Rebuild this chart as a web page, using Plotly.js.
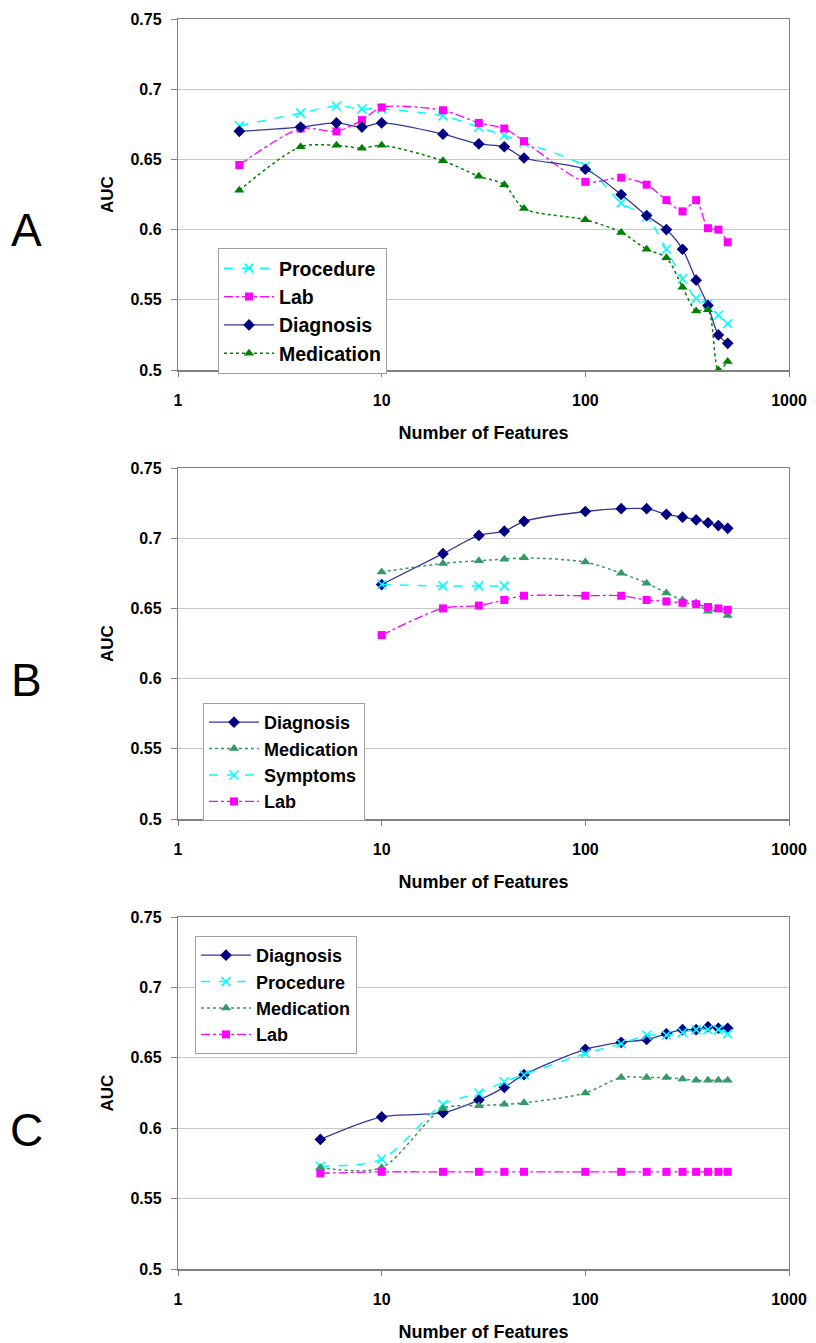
<!DOCTYPE html>
<html><head><meta charset="utf-8">
<script src="https://cdn.plot.ly/plotly-3.0.1.min.js"></script>
<style>html,body{margin:0;padding:0;background:#fff}#c{width:816px;height:1343px}</style>
</head><body><div id="c"></div>
<script>
// Panel A
const featA = [2,4,6,8,10,20,30,40,50,100,150,200,250,300,350,400,450,500];
const A_procedure = [0.674,0.683,0.688,0.686,0.686,0.681,0.673,0.667,0.662,0.645,0.619,0.609,0.586,0.565,0.551,0.547,0.539,0.533];
const A_lab = [0.646,0.672,0.670,0.678,0.687,0.685,0.676,0.672,0.663,0.634,0.637,0.632,0.621,0.613,0.621,0.601,0.600,0.591];
const A_diagnosis = [0.670,0.673,0.676,0.673,0.676,0.668,0.661,0.659,0.651,0.643,0.625,0.610,0.600,0.586,0.564,0.546,0.525,0.519];
const A_medication = [0.628,0.659,0.660,0.658,0.660,0.649,0.638,0.632,0.615,0.607,0.598,0.586,0.580,0.559,0.542,0.543,0.500,0.506];
// Panel B
const featB = [10,20,30,40,50,100,150,200,250,300,350,400,450,500];
const featB_sym = [10,20,30,40];
const B_diagnosis = [0.667,0.689,0.702,0.705,0.712,0.719,0.721,0.721,0.717,0.715,0.713,0.711,0.709,0.707];
const B_medication = [0.676,0.682,0.684,0.685,0.686,0.683,0.675,0.668,0.661,0.656,0.654,0.648,0.649,0.645];
const B_symptoms = [0.667,0.666,0.666,0.666];
const B_lab = [0.631,0.650,0.652,0.656,0.659,0.659,0.659,0.656,0.655,0.654,0.653,0.651,0.650,0.649];
// Panel C
const featC = [5,10,20,30,40,50,100,150,200,250,300,350,400,450,500];
const C_diagnosis = [0.592,0.608,0.611,0.620,0.629,0.638,0.656,0.661,0.663,0.667,0.670,0.670,0.672,0.671,0.671];
const C_procedure = [0.573,0.578,0.617,0.625,0.633,0.638,0.653,0.660,0.666,0.666,0.668,0.670,0.670,0.670,0.667];
const C_medication = [0.572,0.572,0.614,0.616,0.617,0.618,0.625,0.636,0.636,0.636,0.635,0.634,0.634,0.634,0.634];
const C_lab = [0.568,0.569,0.569,0.569,0.569,0.569,0.569,0.569,0.569,0.569,0.569,0.569,0.569,0.569,0.569];

const panelLabels = ['A','B','C'];
const yTicks = [0.5,0.55,0.6,0.65,0.7,0.75];
const yTickText = ['0.5','0.55','0.6','0.65','0.7','0.75'];
const xTicks = [1,10,100,1000];
const xTickText = ['1','10','100','1000'];

const FONT = 'Arial, "Liberation Sans", sans-serif';
const NAVY = '#000080', NAVYLINE = '#35359a', CYAN = '#00ffff', MAG = '#ff00ff', GREEN = '#008000', SEA = '#339966';

const styles = {
  Procedure: {line:{color:CYAN,dash:'dash',width:1.5}, marker:{symbol:'x-thin-open',size:9,color:CYAN,line:{color:CYAN,width:1.6}}},
  Symptoms: {line:{color:CYAN,dash:'dash',width:1.5}, marker:{symbol:'x-thin-open',size:9,color:CYAN,line:{color:CYAN,width:1.6}}},
  Lab: {line:{color:MAG,dash:'dashdot',width:1.3}, marker:{symbol:'square',size:8,color:MAG}},
  Diagnosis: {line:{color:NAVYLINE,dash:'solid',width:1.3}, marker:{symbol:'diamond',size:9,color:NAVY}},
  MedA: {line:{color:GREEN,dash:'dot',width:1.5}, marker:{symbol:'triangle-up',size:9,color:GREEN}},
  MedBC: {line:{color:SEA,dash:'dot',width:1.5}, marker:{symbol:'triangle-up',size:9,color:SEA}}
};

function tr(name, styleKey, x, y, ax, leg) {
  const s = styles[styleKey];
  return {x:x, y:y, name:name, type:'scatter', mode:'lines+markers',
    line:Object.assign({shape:'spline', smoothing:0.8}, s.line), marker:s.marker,
    xaxis:'x'+ax, yaxis:'y'+ax, legend:leg};
}

const data = [
  tr('Procedure','Procedure',featA,A_procedure,'', 'legend'),
  tr('Lab','Lab',featA,A_lab,'', 'legend'),
  tr('Diagnosis','Diagnosis',featA,A_diagnosis,'', 'legend'),
  tr('Medication','MedA',featA,A_medication,'', 'legend'),
  tr('Diagnosis','Diagnosis',featB,B_diagnosis,'2','legend2'),
  tr('Medication','MedBC',featB,B_medication,'2','legend2'),
  tr('Symptoms','Symptoms',featB_sym,B_symptoms,'2','legend2'),
  tr('Lab','Lab',featB,B_lab,'2','legend2'),
  tr('Diagnosis','Diagnosis',featC,C_diagnosis,'3','legend3'),
  tr('Procedure','Procedure',featC,C_procedure,'3','legend3'),
  tr('Medication','MedBC',featC,C_medication,'3','legend3'),
  tr('Lab','Lab',featC,C_lab,'3','legend3')
];

const H = 1343, W = 816;
const xdom = [178/W, 789/W];
const ydoms = [[1-370/H, 1-19/H],[1-819/H, 1-468/H],[1-1269/H, 1-917/H]];

function xax(anchor) {
  return {type:'log', range:[0,3], domain:xdom, anchor:anchor,
    tickvals:xTicks, ticktext:xTickText, ticks:'outside', ticklen:5, tickcolor:'#808080',
    showgrid:false, showline:true, linecolor:'#808080', linewidth:1.5, mirror:true,
    tickfont:{family:FONT,size:16,color:'#000',weight:'bold'}, ticklabelstandoff:10,
    title:{text:'Number of Features', font:{family:FONT,size:18,color:'#000',weight:'bold'}, standoff:18},
    zeroline:false};
}
function yax(anchor, dom) {
  return {range:[0.5,0.75], domain:dom, anchor:anchor,
    tickvals:yTicks, ticktext:yTickText, ticks:'outside', ticklen:6, tickcolor:'#808080',
    showgrid:true, gridcolor:'#c8c8c8', gridwidth:1.2, showline:true, linecolor:'#808080', linewidth:1.2, mirror:true,
    tickfont:{family:FONT,size:16,color:'#000',weight:'bold'}, ticklabelstandoff:6,
    title:{text:'AUC', font:{family:FONT,size:17,color:'#000',weight:'bold'}, standoff:12},
    zeroline:false};
}
function leg(x, y, fs) {
  return {x:x/W, y:1-y/H, xanchor:'left', yanchor:'top', bgcolor:'#fff',
    bordercolor:'#a0a0a0', borderwidth:1, font:{family:FONT,size:fs,color:'#000',weight:'bold'},
    traceorder:'normal', itemwidth:50, tracegroupgap:0};
}

const layout = {
  width:W, height:H, margin:{l:0,r:0,t:0,b:0}, paper_bgcolor:'#fff', plot_bgcolor:'#fff',
  showlegend:true,
  xaxis:xax('y'), yaxis:yax('x', ydoms[0]),
  xaxis2:xax('y2'), yaxis2:yax('x2', ydoms[1]),
  xaxis3:xax('y3'), yaxis3:yax('x3', ydoms[2]),
  legend:leg(218,248,19.5), legend2:leg(203,703,18), legend3:leg(195,936,18),
  annotations: panelLabels.map((t,i) => ({text:t, xref:'paper', yref:'paper', x:26/W, y:1-[230,680,1130][i]/H,
    xanchor:'center', yanchor:'middle', showarrow:false, font:{family:FONT,size:46,color:'#000'}}))
};

Plotly.newPlot('c', data, layout, {staticPlot:true});
</script>
</body></html>
